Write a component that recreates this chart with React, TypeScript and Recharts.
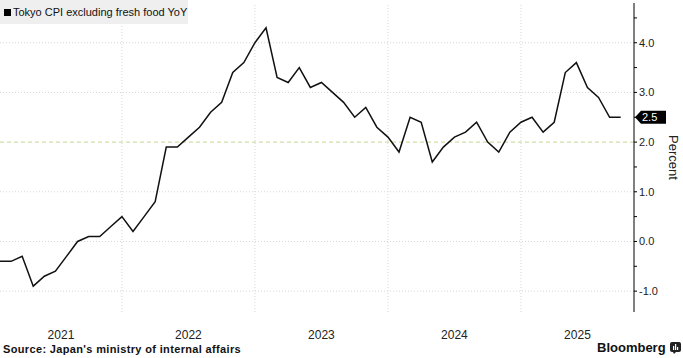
import React from 'react';
import { LineChart, Line, XAxis, YAxis, ReferenceLine } from 'recharts';

const months = [
  '2021-01','2021-02','2021-03','2021-04','2021-05','2021-06','2021-07','2021-08','2021-09','2021-10','2021-11','2021-12',
  '2022-01','2022-02','2022-03','2022-04','2022-05','2022-06','2022-07','2022-08','2022-09','2022-10','2022-11','2022-12',
  '2023-01','2023-02','2023-03','2023-04','2023-05','2023-06','2023-07','2023-08','2023-09','2023-10','2023-11','2023-12',
  '2024-01','2024-02','2024-03','2024-04','2024-05','2024-06','2024-07','2024-08','2024-09','2024-10','2024-11','2024-12',
  '2025-01','2025-02','2025-03','2025-04','2025-05','2025-06','2025-07','2025-08','2025-09',
];

const cpiYoY = [
  -0.4, -0.4, -0.3, -0.9, -0.7, -0.6, -0.3, 0.0, 0.1, 0.1, 0.3, 0.5,
  0.2, 0.5, 0.8, 1.9, 1.9, 2.1, 2.3, 2.6, 2.8, 3.4, 3.6, 4.0,
  4.3, 3.3, 3.2, 3.5, 3.1, 3.2, 3.0, 2.8, 2.5, 2.7, 2.3, 2.1,
  1.8, 2.5, 2.4, 1.6, 1.9, 2.1, 2.2, 2.4, 2.0, 1.8, 2.2, 2.4,
  2.5, 2.2, 2.4, 3.4, 3.6, 3.1, 2.9, 2.5, 2.5,
];

const yearLabels = ['2021', '2022', '2023', '2024', '2025'];
const yearLabelPos = [5.5, 17, 29, 41, 52.1];
const yearBoundaries = [11, 23, 35, 47];
const yTicks = [-1, -0.5, 0, 0.5, 1, 1.5, 2, 2.5, 3, 3.5, 4, 4.5];
const yGrid = [-1, 0, 1, 3, 4];
const targetLine = 2;
const latestValue = cpiYoY[cpiYoY.length - 1];

const data = cpiYoY.map((v, i) => ({ i, month: months[i], v }));

const FONT = '"Liberation Sans", Arial, sans-serif';

const YTick = (props: any) => {
  const { x, y, payload } = props;
  const major = Math.abs(payload.value - Math.round(payload.value)) < 1e-9;
  return (
    <g>
      <line x1={x} x2={x + 3} y1={y} y2={y} stroke="#000" strokeWidth={1} />
      {major && (
        <text x={x + 5} y={y} dy={4} fontSize={11} fontFamily={FONT} fill="#222">
          {payload.value.toFixed(1)}
        </text>
      )}
    </g>
  );
};

const XTick = (props: any) => {
  const { x, y, payload } = props;
  const idx = yearLabelPos.indexOf(payload.value);
  return (
    <text x={x} y={y + 27} textAnchor="middle" fontSize={12} fontFamily={FONT} fill="#222">
      {yearLabels[idx]}
    </text>
  );
};

const LastLabel = (props: any) => {
  const vb = props.viewBox || {};
  const x0 = vb.x + vb.width + 1;
  const y0 = vb.y;
  const pts = `${x0},${y0} ${x0 + 6},${y0 - 6.5} ${x0 + 31},${y0 - 6.5} ${x0 + 31},${y0 + 6.5} ${x0 + 6},${y0 + 6.5}`;
  return (
    <g>
      <polygon points={pts} fill="#000" />
      <text x={x0 + 7} y={y0} dy={4} fontSize={11} fontFamily={FONT} fill="#fff">
        {latestValue.toFixed(1)}
      </text>
    </g>
  );
};

const PercentLabel = (props: any) => {
  const vb = props.viewBox || {};
  const cx = vb.x + 39;
  const cy = vb.y + vb.height / 2;
  return (
    <text x={cx} y={cy} transform={`rotate(90 ${cx} ${cy})`} textAnchor="middle" dy={4}
      fontSize={13} fontFamily={FONT} fill="#222">
      Percent
    </text>
  );
};

export default function App() {
  return (
    <div style={{ position: 'absolute', left: 0, top: 0, width: 683, height: 358, background: '#fff', overflow: 'hidden' }}>
      <LineChart width={683} height={358} data={data} margin={{ top: 3, right: 0, bottom: 0, left: 0 }}>
        {yearBoundaries.map((b) => (
          <ReferenceLine key={'vx' + b} x={b} stroke="#d6d6d6" strokeDasharray="1 2" />
        ))}
        {yGrid.map((g) => (
          <ReferenceLine key={'hy' + g} y={g} stroke="#d6d6d6" strokeDasharray="1 2" />
        ))}
        <ReferenceLine y={targetLine} stroke="#c4d88e" strokeDasharray="4 3" />
        <XAxis
          dataKey="i"
          type="number"
          domain={[0, 57.2]}
          allowDataOverflow
          ticks={yearLabelPos}
          interval={0}
          height={46}
          axisLine={false}
          tickLine={false}
          tickSize={0}
          tickMargin={0}
          tick={<XTick />}
        />
        <YAxis
          orientation="right"
          width={49}
          domain={[-1.42, 4.8]}
          allowDataOverflow
          ticks={yTicks}
          interval={0}
          axisLine={{ stroke: '#000', strokeWidth: 1 }}
          tickLine={false}
          tickSize={0}
          tickMargin={0}
          tick={<YTick />}
          label={<PercentLabel />}
        />
        <Line
          type="linear"
          dataKey="v"
          stroke="#111"
          strokeWidth={1.5}
          dot={false}
          isAnimationActive={false}
        />
        <ReferenceLine y={latestValue} stroke="none" ifOverflow="visible" label={<LastLabel />} />
      </LineChart>
      <div style={{ position: 'absolute', left: 0, top: 0, width: 188, height: 24, background: 'rgba(238,238,238,0.92)', fontFamily: FONT, fontSize: 11, color: '#111', display: 'flex', alignItems: 'center' }}>
        <span style={{ display: 'inline-block', width: 7, height: 7, background: '#000', marginLeft: 4, marginRight: 2 }} />
        <span>Tokyo CPI excluding fresh food YoY</span>
      </div>
      <div style={{ position: 'absolute', left: 3, top: 343, fontFamily: FONT, fontSize: 11, fontWeight: 'bold', letterSpacing: 0.35, color: '#111', whiteSpace: 'nowrap' }}>
        Source: Japan's ministry of internal affairs
      </div>
      <div style={{ position: 'absolute', left: 597, top: 340, fontFamily: FONT, fontSize: 13, fontWeight: 'bold', color: '#111', whiteSpace: 'nowrap', display: 'flex', alignItems: 'center' }}>
        <span>Bloomberg</span>
        <svg width={12} height={12} style={{ marginLeft: 4 }}>
          <rect x={0} y={0} width={11} height={10} rx={2} fill="#222" />
          <polygon points="3,10 6,10 4,12" fill="#222" />
          <rect x={3} y={4} width={1.2} height={4} fill="#fff" />
          <rect x={5} y={2} width={1.2} height={6} fill="#fff" />
          <rect x={7} y={5} width={1.2} height={3} fill="#fff" />
        </svg>
      </div>
    </div>
  );
}
